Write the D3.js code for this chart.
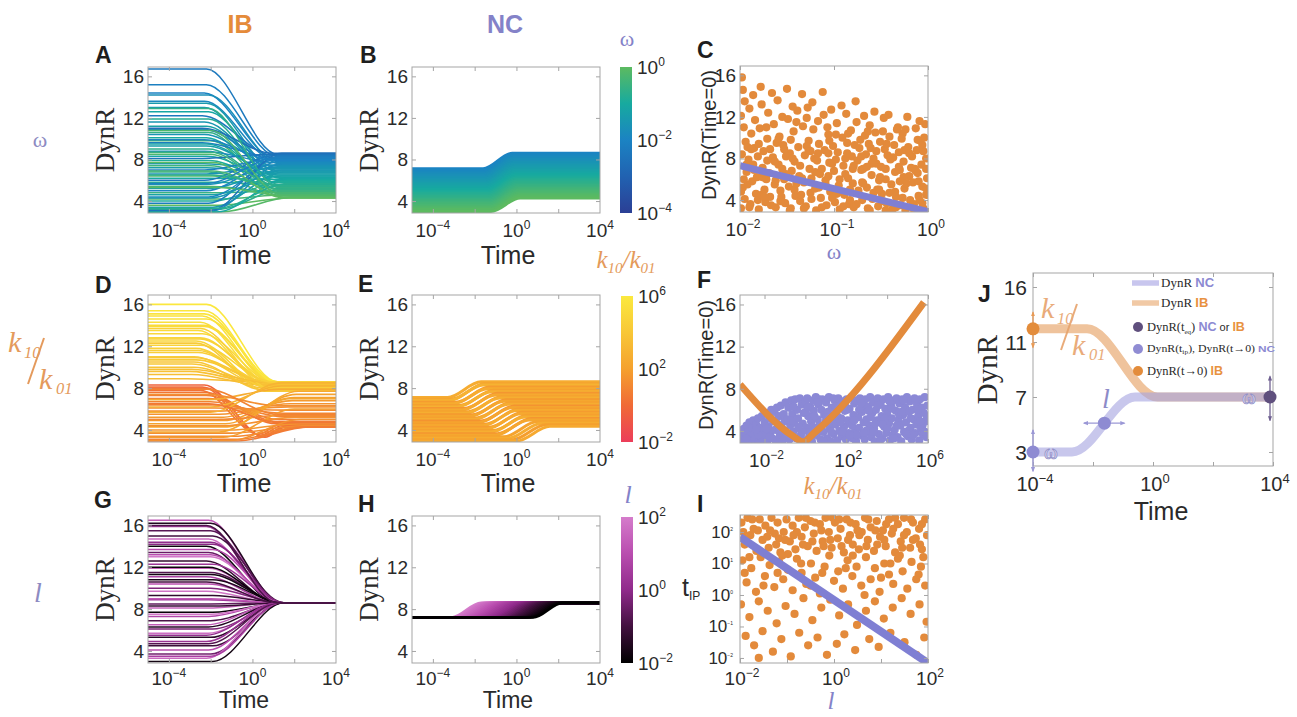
<!DOCTYPE html>
<html>
<head>
<meta charset="utf-8">
<script src="https://cdn.jsdelivr.net/npm/d3@7/dist/d3.min.js"></script>
<style>
html,body{margin:0;padding:0;background:#fff;}
svg{display:block;}
</style>
</head>
<body>
<svg id="fig" width="1297" height="717"></svg>
<script>
// ================= DATA =================
const timeDomainExp = [-5, 4];          // log10 Time shown in A,B,D,E,G,H
const dynrDomain = [2.85, 16.9];
const timeTickExp = [-4, 0, 4];
const timeMinorExp = [-4, -2, 0, 2];
const dynrTicks = [4, 8, 12, 16];
const omegaTickExp = [-2, -1, 0];       // panel C
const kTickExp = [-2, 2, 6];            // panel F
const kDomainExp = [-3.2, 6];
const lTickExp = [-2, 0, 2];            // panel I
const tipTickExp = [-2, -1, 0, 1, 2];
const tipDomainExp = [-2.16, 2.54];
const omegaBarTicks = [-4, -2, 0];
const kBarTicks = [-2, 2, 6];
const lBarTicks = [-2, 0, 2];
const jTimeTickExp = [-4, 0, 4];
const jDynrTicks = [3, 7, 11, 16];

// A: IB trajectories coloured by omega  [DynR start, DynR end, log10 mid-time, log10 omega]
const ibOmegaLines = [[16.7,8.5,-0.5,-2.3],[15.2,8.3,-0.5,-2.1],[14.4,8.1,-0.6,-2.0],[14.2,7.6,-0.4,-1.7],[13.6,7.9,-0.6,-1.9],[13.4,6.8,-0.5,-1.4],[13.0,7.2,-0.6,-1.5],[12.6,6.2,-0.4,-1.1],[12.2,8.4,-0.7,-2.3],[11.9,5.6,-0.4,-0.8],[11.6,7.0,-0.6,-1.5],[11.2,6.5,-0.5,-1.2],[10.9,8.0,-0.7,-2.1],[10.6,5.1,-0.4,-0.6],[10.4,7.4,-0.6,-1.6],[10.1,6.0,-0.5,-1.0],[9.8,4.7,-0.3,-0.3],[9.6,8.2,-0.7,-2.2],[9.3,6.7,-0.5,-1.3],[9.0,5.4,-0.4,-0.7],[8.8,7.7,-0.6,-1.8],[8.5,4.5,-0.3,-0.2],[8.3,6.3,-0.5,-1.1],[8.1,8.5,-0.7,-2.5],[7.9,5.8,-0.4,-0.9],[7.6,7.1,-0.6,-1.5],[7.4,4.9,-0.3,-0.4],[7.2,6.6,-0.5,-1.3],[7.0,8.1,-0.6,-2.1],[6.8,5.2,-0.4,-0.6],[6.6,7.5,-0.5,-1.7],[6.4,4.4,-0.2,-0.1],[6.2,6.1,-0.4,-1.0],[6.0,8.4,-0.6,-2.3],[5.8,5.6,-0.3,-0.8],[5.6,7.3,-0.5,-1.6],[5.4,4.8,-0.2,-0.3],[5.2,6.9,-0.4,-1.4],[5.0,8.0,-0.5,-2.0],[4.8,5.0,-0.1,-0.5],[4.6,6.4,-0.3,-1.2],[4.4,7.8,-0.4,-1.9],[4.2,4.6,0.0,-0.2],[4.0,5.9,-0.2,-0.9],[3.8,8.3,-0.4,-2.2],[3.6,4.3,0.1,0.0],[3.4,6.8,-0.2,-1.4],[3.2,5.3,0.0,-0.7],[3.0,7.6,-0.3,-1.8],[2.95,4.4,0.2,-0.1],[2.95,6.2,0.0,-1.1],[3.1,8.6,-0.3,-2.5],[5.3,4.5,0.0,-0.1],[6.9,4.7,-0.2,-0.3],[8.7,5.0,-0.3,-0.5],[9.9,7.9,-0.6,-2.0],[11.0,8.6,-0.7,-2.6],[12.9,5.3,-0.4,-0.6],[7.7,4.3,-0.2,0.0],[4.3,7.0,-0.3,-1.5],[5.7,8.2,-0.5,-2.1],[6.5,5.5,-0.3,-0.7],[3.3,5.7,0.0,-0.8],[9.5,6.4,-0.5,-1.2],[10.8,4.6,-0.3,-0.2]];

// B: NC trajectories coloured by omega [start, end, mid, log10 omega]
const ncOmegaLines = [[7.10,8.60,-0.90,-2.00],[6.96,8.45,-0.89,-1.93],[6.82,8.30,-0.88,-1.86],[6.68,8.15,-0.86,-1.79],[6.54,8.00,-0.85,-1.72],[6.40,7.86,-0.84,-1.66],[6.26,7.71,-0.82,-1.59],[6.12,7.56,-0.81,-1.52],[5.98,7.41,-0.80,-1.45],[5.84,7.27,-0.78,-1.38],[5.70,7.12,-0.77,-1.31],[5.56,6.97,-0.76,-1.24],[5.42,6.83,-0.74,-1.17],[5.28,6.68,-0.73,-1.10],[5.14,6.53,-0.72,-1.03],[5.00,6.39,-0.70,-0.97],[4.86,6.24,-0.69,-0.90],[4.72,6.09,-0.68,-0.83],[4.58,5.95,-0.66,-0.76],[4.44,5.80,-0.65,-0.69],[4.30,5.65,-0.64,-0.62],[4.16,5.51,-0.62,-0.55],[4.02,5.36,-0.61,-0.48],[3.88,5.21,-0.60,-0.41],[3.74,5.07,-0.58,-0.34],[3.60,4.92,-0.57,-0.28],[3.46,4.77,-0.56,-0.21],[3.32,4.63,-0.54,-0.14],[3.18,4.48,-0.53,-0.07],[3.00,4.30,-0.52,0.00]];

// C: IB DynR(Time=0) vs omega  [log10 omega, DynR]
const cIbPoints = [[-1.98,15.8],[-1.97,14.6],[-1.95,13.5],[-1.99,12.1],[-1.96,11.0],[-1.94,9.6],[-1.98,8.4],[-1.93,6.7],[-1.97,5.2],[-1.95,4.1],[-1.99,3.2],[-1.90,12.8],[-1.88,10.4],[-1.91,7.9],[-1.87,5.8],[-1.89,3.6],[-1.86,14.1],[-1.84,11.7],[-1.85,9.0],[-1.82,6.2],[-1.83,4.6],[-1.80,3.1],[-1.78,14.9],[-1.77,13.2],[-1.79,10.9],[-1.75,8.7],[-1.76,7.1],[-1.74,5.0],[-1.73,3.8],[-1.70,12.4],[-1.71,9.9],[-1.69,6.6],[-1.68,4.3],[-1.66,14.3],[-1.64,11.3],[-1.65,8.1],[-1.63,5.5],[-1.62,3.3],[-1.60,13.6],[-1.58,10.1],[-1.59,7.4],[-1.57,4.9],[-1.55,12.0],[-1.54,9.3],[-1.53,6.0],[-1.52,3.7],[-1.50,14.7],[-1.49,11.8],[-1.47,8.5],[-1.48,5.3],[-1.46,3.2],[-1.44,13.0],[-1.43,10.6],[-1.42,7.7],[-1.41,4.4],[-1.39,12.6],[-1.38,9.1],[-1.37,6.3],[-1.36,3.9],[-1.34,14.2],[-1.33,11.1],[-1.31,8.3],[-1.32,5.7],[-1.30,3.4],[-1.28,12.9],[-1.27,9.7],[-1.26,7.0],[-1.25,4.7],[-1.23,13.4],[-1.22,10.8],[-1.21,8.0],[-1.20,5.1],[-1.19,3.0],[-1.17,11.6],[-1.16,9.4],[-1.15,6.5],[-1.14,4.2],[-1.12,14.4],[-1.11,12.2],[-1.10,8.8],[-1.09,5.9],[-1.08,3.5],[-1.06,10.3],[-1.05,7.6],[-1.04,4.8],[-1.03,12.7],[-1.01,9.2],[-1.00,6.8],[-0.99,3.8],[-0.97,11.4],[-0.96,8.6],[-0.95,5.4],[-0.94,3.1],[-0.92,13.1],[-0.91,10.0],[-0.90,7.3],[-0.89,4.5],[-0.87,12.3],[-0.86,9.5],[-0.85,6.1],[-0.84,3.6],[-0.82,10.7],[-0.81,8.2],[-0.80,5.6],[-0.79,3.3],[-0.77,13.5],[-0.76,11.5],[-0.75,7.8],[-0.74,4.9],[-0.72,9.8],[-0.71,6.9],[-0.70,4.0],[-0.68,12.1],[-0.67,10.2],[-0.66,8.4],[-0.65,5.2],[-0.64,3.2],[-0.62,11.2],[-0.61,9.0],[-0.60,6.4],[-0.59,4.1],[-0.57,12.5],[-0.56,10.5],[-0.55,7.5],[-0.54,5.0],[-0.53,3.4],[-0.51,9.6],[-0.50,7.2],[-0.49,4.6],[-0.47,11.9],[-0.46,8.9],[-0.45,6.0],[-0.44,3.7],[-0.42,12.2],[-0.41,10.1],[-0.40,7.9],[-0.39,5.5],[-0.38,3.1],[-0.36,9.3],[-0.35,6.7],[-0.34,4.3],[-0.32,11.0],[-0.31,8.6],[-0.30,5.8],[-0.29,3.5],[-0.27,10.4],[-0.26,7.7],[-0.25,5.1],[-0.24,3.0],[-0.22,12.0],[-0.21,9.1],[-0.20,6.3],[-0.19,4.0],[-0.17,8.2],[-0.16,5.7],[-0.15,3.6],[-0.13,10.9],[-0.12,8.8],[-0.11,6.6],[-0.10,4.4],[-0.08,9.7],[-0.07,7.4],[-0.06,5.3],[-0.05,3.2],[-0.03,11.3],[-0.02,8.0],[-0.01,6.1],[-0.02,4.5],[-0.04,10.0],[-0.09,11.6],[-0.14,7.0],[-0.28,9.9],[-0.33,10.8],[-0.48,10.6],[-0.58,8.0],[-0.69,7.0],[-0.78,9.3],[-0.88,8.0],[-0.98,10.3],[-1.07,11.0],[-1.18,7.8],[-1.29,11.9],[-1.40,11.5],[-1.51,8.2],[-1.61,9.5],[-1.72,11.0],[-1.81,8.2],[-1.92,9.1],[-1.92,5.5],[-1.96,6.0],[-1.88,8.9],[-1.81,4.0],[-1.71,7.8],[-1.62,5.9],[-1.53,8.9],[-1.45,6.8],[-1.35,4.5],[-1.27,8.8],[-1.16,5.2],[-1.06,6.3],[-0.97,4.6],[-0.88,6.5],[-0.79,7.3],[-0.70,5.7],[-0.60,7.5],[-0.52,5.9],[-0.43,8.3],[-0.35,4.8],[-0.26,6.2],[-0.18,7.1],[-0.10,5.8],[-0.02,7.0],[-0.06,3.7],[-0.25,8.8],[-0.45,3.0],[-0.63,9.4],[-0.83,4.0],[-1.02,7.5],[-1.24,6.1],[-1.42,5.0],[-1.57,3.9],[-1.76,6.2],[-1.93,7.4],
 [-1.99,4.8],[-1.94,7.2],[-1.9,3.3],[-1.85,6.9],[-1.8,9.4],[-1.77,4.5],[-1.72,6.0],[-1.67,3.5],[-1.63,7.7],[-1.59,9.9],[-1.56,4.3],[-1.51,6.5],[-1.47,3.0],[-1.44,8.0],[-1.4,5.6],[-1.36,7.3],[-1.32,3.2],[-1.29,9.2],[-1.24,4.1],[-1.2,6.7],[-1.17,8.5],[-1.13,3.3],[-1.09,5.5],[-1.05,9.7],[-1.02,4.2],[-0.98,7.9],[-0.94,6.0],[-0.9,3.4],[-0.86,8.5],[-0.83,5.0],[-0.8,7.0],[-0.76,3.6],[-0.73,9.0],[-0.69,5.6],[-0.65,7.2],[-0.62,3.0],[-0.58,4.7],[-0.55,8.7],[-0.51,6.2],[-0.48,3.9],[-0.45,7.0],[-0.41,4.7],[-0.37,8.1],[-0.34,3.3],[-0.3,6.9],[-0.27,4.2],[-0.23,5.6],[-0.2,8.5],[-0.16,3.2],[-0.13,6.8],[-0.09,4.0],[-0.05,8.7],[-0.02,5.1],[-0.11,9.8],[-0.31,7.2],[-0.52,5.0],[-0.71,8.2],[-0.93,4.8],[-1.13,7.0],[-1.34,6.1],[-1.55,7.0],[-1.74,4.3],[-1.86,7.4],[-1.68,8.9],[-1.46,9.8],[-1.25,8.7],[-1.06,8.5],[-0.85,10.4],[-0.64,10.6],[-0.44,9.4],[-0.24,10.8],[-0.06,9.3]];
// C: NC DynR(Time=0) vs omega
const cNcOmega = [-2, 0];
const cNcDynR = [7.3, 2.9];

// D: IB trajectories coloured by k10/k01 [start, end, mid, log10 k, (dip value)]
const ibKLines = [[16.0,8.6,-0.5,5.9],[15.1,8.5,-0.6,5.7],[14.9,8.4,-0.7,5.6],[14.6,8.6,-0.5,5.5],[14.3,8.3,-0.8,5.4],[13.9,8.5,-0.6,5.3],[13.5,8.2,-0.9,5.1],[13.2,8.6,-0.7,5.0],[12.8,8.4,-0.8,4.9],[12.5,8.1,-1.0,4.8],[12.1,8.6,-0.8,4.7],[11.8,8.3,-1.0,4.5],[11.4,8.5,-0.9,4.4],[11.0,8.2,-1.1,4.3],[10.7,8.6,-1.0,4.1],[10.3,8.4,-1.2,4.0],[10.0,8.0,-1.1,3.8],[9.6,8.5,-1.3,3.7],[9.3,8.3,-1.2,3.5],[8.9,8.6,-1.4,3.4],[13.7,7.9,-0.8,4.6],[12.3,7.7,-1.0,4.2],[10.5,7.8,-1.1,3.9],[11.6,8.0,-0.9,4.4],[14.0,8.6,-0.6,5.2],[15.4,8.6,-0.6,5.8],[9.8,8.6,-1.2,3.6],[10.9,8.6,-1.0,4.0],[12.7,8.6,-0.8,4.6],
 [8.3,4.3,-0.9,-0.3,3.4],[8.1,4.4,-1.0,0.1,3.5],[8.0,4.3,-0.8,-0.1,3.3],[7.8,4.5,-1.1,0.3,3.6],[7.6,4.6,-0.6,0.4],[7.3,4.8,-0.5,0.6],[7.0,5.0,-0.4,0.7],[6.7,5.3,-0.3,0.9],[6.4,5.6,-0.2,1.0],[6.1,5.9,-0.1,1.2],[5.8,6.2,0.0,1.3],[5.5,6.5,0.1,1.5],[5.2,6.8,0.2,1.7],[4.9,7.1,0.3,1.9],[4.6,7.4,0.4,2.1],[4.3,7.7,0.5,2.4],[4.0,4.6,0.6,1.6],[3.7,4.4,0.7,1.3],[3.4,4.3,0.8,1.0],[3.1,4.3,0.9,0.8],[2.95,4.3,1.0,0.6],[6.9,7.9,-0.4,2.6],[6.2,8.2,-0.3,2.8],[5.7,8.5,-0.3,3.0],[7.4,6.3,-0.5,1.3],[5.0,5.4,0.0,1.1],[3.3,6.0,0.3,1.9],[3.8,7.0,0.1,2.3],[4.4,5.2,0.3,1.4],[6.5,4.7,-0.4,0.5],[7.9,5.5,-0.5,0.9],[3.0,5.0,0.6,1.4]];

// E: NC trajectories coloured by k10/k01 [start, end, mid, log10 k]
const ncKLines = [[7.1,8.6,-2.5,2.6],[6.95,8.45,-2.3,2.2],[6.8,8.3,-2.4,2.9],[6.65,8.1,-2.1,1.8],[6.5,7.95,-2.2,2.5],[6.35,7.8,-1.9,2.0],[6.2,7.65,-2.0,2.8],[6.05,7.5,-1.7,1.6],[5.9,7.35,-1.8,2.4],[5.75,7.2,-1.5,2.1],[5.6,7.05,-1.6,2.7],[5.45,6.9,-1.3,1.7],[5.3,6.75,-1.4,2.3],[5.15,6.6,-1.1,2.0],[5.0,6.45,-1.2,2.6],[4.85,6.3,-0.9,1.5],[4.7,6.15,-1.0,2.2],[4.55,6.0,-0.7,1.9],[4.4,5.85,-0.8,2.5],[4.25,5.7,-0.5,1.8],[4.1,5.55,-0.6,2.4],[3.95,5.4,-0.3,2.0],[3.8,5.25,-0.4,2.7],[3.65,5.1,-0.1,1.6],[3.5,4.95,-0.2,2.3],[3.35,4.8,0.2,2.1],[3.2,4.65,0.4,2.6],[3.05,4.5,0.6,1.9],[2.95,4.35,0.8,2.4]];

// F: NC DynR(Time=0) vs k10/k01 [log10 k, DynR]
const fNcPoints = [[-3.18,3.1],[-3.12,3.9],[-3.07,3.4],[-3.02,4.2],[-2.97,3.0],[-2.93,3.7],[-2.88,4.5],[-2.83,3.2],[-2.78,3.9],[-2.74,4.8],[-2.69,3.5],[-2.64,3.0],[-2.6,4.3],[-2.55,5.0],[-2.5,3.7],[-2.46,3.2],[-2.41,4.6],[-2.36,3.9],[-2.32,5.2],[-2.27,3.0],[-2.22,4.3],[-2.18,3.5],[-2.13,5.4],[-2.08,4.0],[-2.04,3.1],[-1.99,4.8],[-1.95,3.6],[-1.9,5.7],[-1.85,3.1],[-1.81,4.4],[-1.76,5.2],[-1.72,3.8],[-1.67,6.0],[-1.62,3.3],[-1.58,4.9],[-1.53,5.8],[-1.48,4.1],[-1.44,3.0],[-1.39,6.2],[-1.34,4.6],[-1.3,5.4],[-1.25,3.5],[-1.2,6.4],[-1.16,4.3],[-1.11,3.1],[-1.06,5.6],[-1.02,4.9],[-0.97,6.7],[-0.92,3.7],[-0.88,5.1],[-0.83,6.2],[-0.78,3.2],[-0.74,4.5],[-0.69,6.9],[-0.64,5.6],[-0.6,3.9],[-0.55,4.8],[-0.5,7.0],[-0.46,3.3],[-0.41,6.0],[-0.36,5.2],[-0.32,4.2],[-0.27,7.1],[-0.22,3.6],[-0.18,6.5],[-0.13,4.7],[-0.08,5.7],[-0.04,3.1],[0.0,6.8],[0.05,4.3],[0.09,7.1],[0.14,5.4],[0.18,3.4],[0.23,6.3],[0.28,4.9],[0.32,3.0],[0.37,6.9],[0.41,5.9],[0.46,4.0],[0.51,7.2],[0.55,3.6],[0.6,5.1],[0.64,6.5],[0.69,4.5],[0.74,3.2],[0.78,6.0],[0.83,7.0],[0.87,3.9],[0.92,5.5],[0.97,4.8],[1.01,6.7],[1.06,3.3],[1.1,5.8],[1.15,7.2],[1.2,4.2],[1.24,3.0],[1.29,6.2],[1.33,5.0],[1.38,3.7],[1.43,6.9],[1.47,4.6],[1.52,5.6],[1.56,3.1],[1.61,7.1],[1.66,4.0],[1.7,6.4],[1.75,5.2],[1.79,3.5],[1.84,6.8],[1.89,4.4],[1.93,5.9],[1.98,3.2],[2.02,7.0],[2.07,5.0],[2.12,3.8],[2.16,6.1],[2.21,4.7],[2.25,7.2],[2.3,3.3],[2.35,5.5],[2.39,6.6],[2.44,4.1],[2.48,3.0],[2.53,6.9],[2.58,5.3],[2.62,4.3],[2.67,7.1],[2.71,3.6],[2.76,5.8],[2.81,6.4],[2.85,4.8],[2.9,3.2],[2.94,7.0],[2.99,5.1],[3.04,3.9],[3.08,6.3],[3.13,4.5],[3.17,7.2],[3.22,3.4],[3.27,5.7],[3.31,6.7],[3.36,4.2],[3.4,3.0],[3.45,6.0],[3.5,5.0],[3.54,7.1],[3.59,3.7],[3.63,4.9],[3.68,6.5],[3.73,5.4],[3.77,3.3],[3.82,7.0],[3.86,4.4],[3.91,6.1],[3.96,3.8],[4.0,5.6],[4.05,7.2],[4.09,4.7],[4.14,3.1],[4.19,6.4],[4.23,5.2],[4.28,3.6],[4.32,6.9],[4.37,4.1],[4.42,5.9],[4.46,7.1],[4.51,3.4],[4.55,5.0],[4.6,6.6],[4.65,4.5],[4.69,3.0],[4.74,7.0],[4.78,5.5],[4.83,3.9],[4.88,6.2],[4.92,4.8],[4.97,7.2],[5.01,3.5],[5.06,5.8],[5.11,6.8],[5.15,4.3],[5.2,3.2],[5.24,6.0],[5.29,5.1],[5.34,7.1],[5.38,3.8],[5.43,4.6],[5.47,6.5],[5.52,5.4],[5.57,3.1],[5.61,7.0],[5.66,4.2],[5.7,6.2],[5.75,3.7],[5.8,5.7],[5.84,7.2],[5.89,4.9],[5.93,3.4],[5.97,6.4],[0.02,5.8],[0.21,3.9],[0.44,5.4],[0.66,7.0],[0.89,3.0],[1.13,4.6],[1.36,7.1],[1.59,5.3],[1.82,3.9],[2.05,6.0],[2.28,4.5],[2.51,3.6],[2.74,6.6],[2.97,4.0],[3.2,5.3],[3.43,4.7],[3.66,3.1],[3.89,5.2],[4.12,6.8],[4.35,3.3],[4.58,5.6],[4.81,6.9],[5.04,4.0],[5.27,3.6],[5.5,6.0],[5.73,4.5],[5.95,5.3],[-0.15,3.9],[-0.58,6.3],[-1.28,4.0],[-1.75,3.4],[-2.3,3.6],[-2.9,3.3],
 [0.12,6.2],[0.35,4.4],[0.58,6.7],[0.8,4.1],[1.03,5.3],[1.26,3.9],[1.48,6.3],[1.71,4.8],[1.94,6.6],[2.17,3.6],[2.4,5.0],[2.63,6.0],[2.86,3.8],[3.09,5.9],[3.32,3.9],[3.55,6.4],[3.78,4.6],[4.01,4.2],[4.24,6.1],[4.47,4.5],[4.7,5.8],[4.93,3.7],[5.16,5.2],[5.39,6.9],[5.62,4.9],[5.85,3.9],[-0.35,4.4],[-0.7,5.0],[-1.0,4.0],[-1.45,5.0],[-1.9,4.2],[-2.4,4.1]];
// F: IB DynR(Time=0) vs k10/k01
const fIbK = [-3.2, -0.6, -0.11, 0.4, 5.8];
const fIbDynR = [8.4, 3.5, 2.96, 3.75, 16.2];

// G: IB trajectories coloured by l [start, mid, log10 l]; all end at 8.6
const ibLEnd = 8.6;
const ibLLines = [[16.5,-0.4,1.2],[16.2,-0.3,-1.5],[15.9,-0.5,0.5],[15.0,-0.2,-1.0],[14.7,-0.4,1.6],[14.4,-0.3,0.0],[14.0,-0.5,-1.8],[13.7,-0.2,0.9],[13.4,-0.4,-0.5],[13.0,-0.3,1.9],[12.6,-0.5,-1.2],[12.3,-0.2,0.3],[11.9,-0.4,1.4],[11.5,-0.3,-0.8],[11.1,-0.5,0.7],[10.8,-0.2,-1.6],[10.4,-0.4,1.1],[10.0,-0.3,-0.2],[9.7,-0.5,1.8],[9.3,-0.2,-1.3],[8.9,-0.4,0.4],[8.5,-0.3,-0.6],[8.1,-0.5,1.5],[7.7,-0.2,-1.9],[7.3,-0.4,0.8],[6.9,-0.3,-0.9],[6.5,-0.5,1.3],[6.1,-0.2,-0.3],[5.7,-0.4,1.7],[5.3,-0.3,-1.4],[4.9,-0.5,0.2],[4.5,-0.2,-1.1],[4.1,-0.4,1.0],[3.7,-0.3,-0.4],[3.3,-0.5,1.6],[3.0,-0.2,-1.7],[15.5,-0.3,-0.7],[12.0,-0.4,-1.9],[9.0,-0.3,1.2],[6.3,-0.4,-1.5],[3.5,-0.3,0.6],[14.2,-0.2,-0.1],[10.6,-0.5,-1.0],[7.5,-0.3,1.9],[4.7,-0.4,-0.8],[13.2,-0.3,1.0],[8.3,-0.2,-1.2],[5.5,-0.5,0.1],[11.3,-0.3,-1.7],[16.0,-0.5,-0.9]];

// H: NC trajectories coloured by l [log10 l, mid]; start 7.2 -> end 8.6
const ncLStartEnd = [7.2, 8.6];
const ncLLines = [[2.0,-2.4],[1.87,-2.27],[1.73,-2.14],[1.6,-2.01],[1.47,-1.88],[1.33,-1.75],[1.2,-1.62],[1.07,-1.49],[0.93,-1.36],[0.8,-1.23],[0.67,-1.1],[0.53,-0.97],[0.4,-0.84],[0.27,-0.71],[0.13,-0.58],[0,-0.45],[-0.13,-0.32],[-0.27,-0.19],[-0.4,-0.06],[-0.53,0.07],[-0.67,0.2],[-0.8,0.33],[-0.93,0.46],[-1.07,0.59],[-1.2,0.72],[-1.33,0.85],[-1.47,0.98],[-1.6,1.11],[-1.73,1.24],[-1.87,1.37],[-2.0,1.5]];

// I: IB inflection time vs l  [log10 l, log10 t_IP]
const iIbPoints = [[-1.97,2.3],[-1.9,1.6],[-1.84,2.45],[-1.78,1.9],[-1.71,2.1],[-1.65,1.4],[-1.58,2.4],[-1.52,1.75],[-1.46,2.2],[-1.39,1.5],[-1.33,2.45],[-1.26,1.95],[-1.2,2.3],[-1.14,1.35],[-1.07,2.0],[-1.01,2.4],[-0.94,1.7],[-0.88,2.2],[-0.82,1.45],[-0.75,2.45],[-0.69,1.85],[-0.62,2.15],[-0.56,1.55],[-0.5,2.35],[-0.43,1.95],[-0.37,1.4],[-0.3,2.25],[-0.24,1.7],[-0.18,2.45],[-0.11,2.0],[-0.05,1.5],[0.02,2.3],[0.08,1.8],[0.14,2.1],[0.21,1.35],[0.27,2.4],[0.34,1.9],[0.4,1.6],[0.46,2.25],[0.53,1.45],[0.59,2.0],[0.66,2.45],[0.72,1.75],[0.78,2.15],[0.85,1.4],[0.91,2.35],[0.98,1.85],[1.04,2.05],[1.1,1.55],[1.17,2.4],[1.23,1.95],[1.3,1.35],[1.36,2.25],[1.42,1.7],[1.49,2.45],[1.55,2.0],[1.62,1.5],[1.68,2.3],[1.74,1.8],[1.81,2.1],[1.87,1.45],[1.94,2.4],[1.98,1.9],[-1.93,2.0],[-1.74,2.4],[-1.55,1.3],[-1.36,2.05],[-1.17,1.8],[-0.98,1.3],[-0.79,2.0],[-0.6,2.45],[-0.41,2.3],[-0.22,1.55],[-0.03,2.45],[0.16,1.55],[0.35,2.3],[0.54,1.9],[0.73,2.4],[0.92,1.6],[1.11,2.25],[1.3,2.45],[1.49,1.9],[1.68,1.75],[1.87,2.25],[-1.95,1.1],[-1.86,0.4],[-1.76,0.85],[-1.66,0.1],[-1.56,1.2],[-1.47,0.6],[-1.37,0.95],[-1.27,0.25],[-1.17,1.05],[-1.08,0.5],[-0.98,0.8],[-0.88,0.15],[-0.79,1.15],[-0.69,0.7],[-0.59,0.35],[-0.49,1.0],[-0.4,0.55],[-0.3,0.05],[-0.2,0.9],[-0.1,1.25],[0.0,0.45],[0.09,0.75],[0.19,0.2],[0.29,1.1],[0.39,0.6],[0.48,0.9],[0.58,0.3],[0.68,1.2],[0.78,0.5],[0.87,0.85],[0.97,0.1],[1.07,1.0],[1.17,0.65],[1.26,0.35],[1.36,1.15],[1.46,0.75],[1.56,0.2],[1.65,1.05],[1.75,0.5],[1.85,0.9],[1.94,0.3],[-1.9,0.7],[-1.5,0.3],[-1.1,1.25],[-0.7,1.0],[-0.25,0.7],[0.25,0.85],[0.65,0.0],[1.0,0.55],[1.4,1.25],[1.8,0.65],[-1.98,-0.3],[-1.8,-0.7],[-1.6,-0.2],[-1.41,-0.5],[-1.22,-0.9],[-1.03,-0.35],[-0.84,-0.6],[-0.65,-0.1],[-0.46,-0.8],[-0.27,-0.4],[-0.08,-0.15],[0.11,-0.65],[0.3,-0.3],[0.49,-0.95],[0.68,-0.5],[0.87,-0.2],[1.06,-0.75],[1.25,-0.4],[1.44,-0.1],[1.63,-0.6],[1.82,-0.3],[1.97,-0.85],[-1.88,-1.3],[-1.7,-1.6],[-1.52,-1.15],[-1.3,-1.8],[-1.12,-1.4],[-0.92,-1.95],[-0.74,-1.2],[-0.55,-1.6],[-0.35,-1.35],[-0.15,-1.9],[0.06,-1.55],[0.22,-1.25],[0.45,-1.75],[0.75,-1.4],[0.95,-1.65],[1.2,-1.2],[1.5,-1.5],[1.75,-1.9],[1.92,-1.35],[-1.6,-2.0],
 [-1.88,1.8],[-1.62,2.05],[-1.42,1.85],[-1.23,1.6],[-1.04,1.75],[-0.86,1.9],[-0.66,1.6],[-0.46,1.7],[-0.27,2.05],[-0.08,1.75],[0.11,2.4],[0.3,1.75],[0.5,2.05],[0.69,1.55],[0.88,2.05],[1.07,1.75],[1.26,2.1],[1.45,1.5],[1.64,2.4],[1.83,1.6],[-1.8,1.2],[-1.2,0.7],[-0.5,0.3],[0.4,1.25],[1.2,1.0],[1.9,1.2]];
// I: NC inflection time vs l
const iNcL = [-2, 2];
const iNcTip = [1.84, -2.16];

// J: schematic
const jNcTime = [-4, -2.7, -0.6, 4];
const jNcDynR = [3, 3, 7, 7];
const jIbTime = [-4, -2.2, 0.15, 4];
const jIbDynR = [12.2, 12.2, 7, 7];
const jDots = [{t:-4, v:12.2, c:'ib'}, {t:-4, v:3, c:'nc'}, {t:-1.62, v:5.1, c:'nc'}, {t:3.9, v:7, c:'eq'}];
const jLegend = ['DynR NC', 'DynR IB', 'DynR(t_eq) NC or IB', 'DynR(t_ip), DynR(t→0) NC', 'DynR(t→0) IB'];

// ================= DRAWING =================
const svg = d3.select('#fig');
const defs = svg.append('defs');
const SANS = '"Liberation Sans", Arial, sans-serif';
const SERIF = '"Liberation Serif", "Times New Roman", serif';
const ORANGE = '#e58b3a', LAV = '#8482c8', INK = '#2a2a2a', FRAME = '#a5a5a5';
const MINUS = '\u2212';

const colX = [[148,336],[412,600],[740,928]];
const rowY = [[67,213],[295,442],[516,663]];
const timeLabelY = [264, 492, 708];
const tickLabelOff = [24, 24, 22];

const omegaColor = d3.scaleLinear().domain([-4,-3,-2,-1,0]).range(['#2b3f95','#2162b1','#1b83c3','#17aa9f','#5cba60']);
const kColor = d3.scaleLinear().domain([-2,0,2,4,6]).range(['#ec3d5a','#f06a36','#f5a12e','#f8c737','#fbe93e']);
const lColor = d3.scaleLinear().domain([-2,-1,0,1,2]).range(['#000000','#42103f','#902a8b','#b94daf','#d57ccb']);

let uid = 0;
function clip(x0,y0,x1,y1){
  const id = 'c' + (uid++);
  defs.append('clipPath').attr('id',id).append('rect').attr('x',x0).attr('y',y0).attr('width',x1-x0).attr('height',y1-y0);
  return `url(#${id})`;
}
function expText(g, x, y, e, size, anchor, supSize, rise, color){
  const t = g.append('text').attr('x',x).attr('y',y).attr('font-family',SANS).attr('font-size',size)
    .attr('fill',color||INK).attr('text-anchor',anchor);
  t.append('tspan').text('10');
  t.append('tspan').attr('dy',-rise).attr('font-size',supSize).text(String(e).replace('-',MINUS));
  return t;
}
function frame(g, x, y, xt, yt){
  const [x0,x1] = x.range(); const [y1,y0] = y.range();
  g.append('rect').attr('x',x0).attr('y',y0).attr('width',x1-x0).attr('height',y1-y0)
    .attr('fill','none').attr('stroke',FRAME).attr('stroke-width',1);
  const st = s => { s.select('.domain').remove(); s.selectAll('line').attr('stroke',FRAME); s.selectAll('text').remove(); };
  g.append('g').attr('transform',`translate(0,${y1})`).call(d3.axisBottom(x).tickValues(xt).tickSize(-4)).call(st);
  g.append('g').attr('transform',`translate(0,${y0})`).call(d3.axisTop(x).tickValues(xt).tickSize(-4)).call(st);
  g.append('g').attr('transform',`translate(${x0},0)`).call(d3.axisLeft(y).tickValues(yt).tickSize(-4)).call(st);
  g.append('g').attr('transform',`translate(${x1},0)`).call(d3.axisRight(y).tickValues(yt).tickSize(-4)).call(st);
}
function panelLetter(txt, x, y){
  svg.append('text').attr('x',x).attr('y',y).attr('font-family',SANS).attr('font-weight','bold')
    .attr('font-size',23).attr('fill','#1e1e1e').text(txt);
}
function sKnots(s, e, m, hw){ return [[timeDomainExp[0],s],[m-hw,s],[m+hw,e],[timeDomainExp[1],e]]; }
function dipKnots(s, e, m, hw, dip){ return [[timeDomainExp[0],s],[m-hw,s],[m+hw,dip],[m+hw+1.0,e],[timeDomainExp[1],e]]; }

function timePanel(ci, ri, lines, knotFn, colorFn, sw){
  const [x0,x1] = colX[ci], [y0,y1] = rowY[ri];
  const x = d3.scaleLog().domain(timeDomainExp.map(e=>10**e)).range([x0,x1]);
  const y = d3.scaleLinear().domain(dynrDomain).range([y1,y0]);
  const g = svg.append('g');
  const line = d3.line().x(d=>x(10**d[0])).y(d=>y(d[1])).curve(d3.curveMonotoneX);
  g.append('g').attr('clip-path',clip(x0,y0,x1,y1)).selectAll('path').data(lines).join('path')
    .attr('d',d=>line(knotFn(d))).attr('fill','none').attr('stroke',colorFn).attr('stroke-width',sw);
  frame(g, x, y, timeMinorExp.map(e=>10**e), dynrTicks);
  timeTickExp.forEach(e=>expText(g, x(10**e), y1+tickLabelOff[ri], e, 19, 'middle', 12, 8));
  dynrTicks.forEach(v=>g.append('text').attr('x',x0-4).attr('y',y(v)).attr('dy','0.36em').attr('text-anchor','end')
    .attr('font-family',SANS).attr('font-size',19).attr('fill',INK).text(v));
  g.append('text').attr('transform',`translate(${x0-34},${(y0+y1)/2}) rotate(-90)`).attr('text-anchor','middle')
    .attr('font-family',SERIF).attr('font-size',27).attr('fill',INK).text('DynR');
  g.append('text').attr('x',(x0+x1)/2+2).attr('y',timeLabelY[ri]).attr('text-anchor','middle')
    .attr('font-family',SANS).attr('font-size',ri===2?23:25).attr('fill',INK).text('Time');
  return g;
}

// ---- Column headers
svg.append('text').attr('x',240).attr('y',33).attr('text-anchor','middle').attr('font-family',SANS).attr('font-weight','bold')
  .attr('font-size',25).attr('fill',ORANGE).text('IB');
svg.append('text').attr('x',505).attr('y',33).attr('text-anchor','middle').attr('font-family',SANS).attr('font-weight','bold')
  .attr('font-size',25).attr('fill',LAV).text('NC');

// ---- A, B
timePanel(0,0, ibOmegaLines, d=>sKnots(d[0],d[1],d[2],1.7), d=>omegaColor(d[3]), 1.5);
timePanel(1,0, ncOmegaLines, d=>sKnots(d[0],d[1],d[2],0.7), d=>omegaColor(d[3]), 3);
// ---- D, E
timePanel(0,1, ibKLines, d=> d.length>4 ? dipKnots(d[0],d[1],d[2],1.4,d[4]) : sKnots(d[0],d[1],d[2],1.7), d=>kColor(d[3]), 1.6);
timePanel(1,1, ncKLines, d=>sKnots(d[0],d[1],d[2],0.8), d=>kColor(d[3]), 3);
// ---- G, H
timePanel(0,2, ibLLines, d=>sKnots(d[0],ibLEnd,d[1],1.7), d=>lColor(d[2]), 1.5);
timePanel(1,2, ncLLines, d=>sKnots(ncLStartEnd[0],ncLStartEnd[1],d[1],0.7), d=>lColor(d[0]), 2.6);

panelLetter('A',95,63); panelLetter('B',360,63); panelLetter('C',697,58);
panelLetter('D',95,293); panelLetter('E',358,292); panelLetter('F',697,288);
panelLetter('G',94,508); panelLetter('H',358,512); panelLetter('I',697,512);
panelLetter('J',978,302);

// ---- Colorbars
function colorbar(x0, y0, y1, scale, ticks){
  const id = 'g' + (uid++);
  const dom = d3.extent(scale.domain());
  const grad = defs.append('linearGradient').attr('id',id).attr('x1',0).attr('y1',1).attr('x2',0).attr('y2',0);
  scale.domain().forEach(v=>grad.append('stop').attr('offset',(v-dom[0])/(dom[1]-dom[0])).attr('stop-color',scale(v)));
  svg.append('rect').attr('x',x0).attr('y',y0).attr('width',12).attr('height',y1-y0).attr('fill',`url(#${id})`);
  const cy = d3.scaleLinear().domain(dom).range([y1,y0]);
  ticks.forEach(e=>expText(svg, x0+17, cy(e)+7, e, 19, 'start', 12, 8));
}
colorbar(620, 67, 213, omegaColor, omegaBarTicks);
colorbar(621, 296, 442, kColor, kBarTicks);
colorbar(621, 517, 663, lColor, lBarTicks);

// ---- k10/k01 helpers
function kInline(x, y, size, color, anchor){
  const t = svg.append('text').attr('x',x).attr('y',y).attr('text-anchor',anchor||'middle').attr('font-family',SERIF)
    .attr('font-style','italic').attr('font-size',size).attr('fill',color);
  t.append('tspan').text('k');
  t.append('tspan').attr('dy',size*0.2).attr('font-size',size*0.6).text('10');
  t.append('tspan').attr('dy',-size*0.2).text('/');
  t.append('tspan').text('k');
  t.append('tspan').attr('dy',size*0.2).attr('font-size',size*0.6).text('01');
}
function kStacked(g, x, y, size, color, op){
  const s = size/30;
  const h = g.append('g').attr('fill',color).attr('opacity',op).attr('font-family',SERIF).attr('font-style','italic');
  h.append('text').attr('x',x).attr('y',y).attr('font-size',size).text('k');
  h.append('text').attr('x',x+16*s).attr('y',y+6*s).attr('font-size',size*0.55).text('10');
  h.append('line').attr('x1',x+20*s).attr('y1',y+32*s).attr('x2',x+36*s).attr('y2',y-14*s).attr('stroke',color).attr('stroke-width',2*s);
  h.append('text').attr('x',x+31*s).attr('y',y+37*s).attr('font-size',size).text('k');
  h.append('text').attr('x',x+48*s).attr('y',y+42*s).attr('font-size',size*0.55).text('01');
}

// colorbar titles
svg.append('text').attr('x',627).attr('y',46).attr('text-anchor','middle').attr('font-family',SERIF).attr('font-size',22)
  .attr('fill',LAV).text('ω');
kInline(626, 268, 25, '#e49a5a');
svg.append('text').attr('x',628).attr('y',503).attr('text-anchor','middle').attr('font-family',SERIF).attr('font-style','italic')
  .attr('font-size',26).attr('fill',LAV).text('l');

// row labels
svg.append('text').attr('x',40).attr('y',147).attr('text-anchor','middle').attr('font-family',SERIF).attr('font-size',22)
  .attr('fill','#8d8bc2').text('ω');
kStacked(svg, 8, 352, 30, '#e49a5c', 1);
svg.append('text').attr('x',38).attr('y',602).attr('text-anchor','middle').attr('font-family',SERIF).attr('font-style','italic')
  .attr('font-size',28).attr('fill','#8d8bc2').text('l');

// ---- C
{
  const [x0,x1] = colX[2], y0 = 66, y1 = 212;
  const x = d3.scaleLog().domain([1e-2,1]).range([x0,x1]);
  const y = d3.scaleLinear().domain(dynrDomain).range([y1,y0]);
  const g = svg.append('g');
  const inner = g.append('g').attr('clip-path',clip(x0,y0,x1,y1));
  inner.selectAll('circle').data(cIbPoints).join('circle').attr('cx',d=>x(10**d[0])).attr('cy',d=>y(d[1])).attr('r',4.1).attr('fill','#e38a3b');
  inner.append('path').datum(cNcOmega.map((o,i)=>[o,cNcDynR[i]])).attr('d',d3.line().x(d=>x(10**d[0])).y(d=>y(d[1])))
    .attr('fill','none').attr('stroke','#7f7fd3').attr('stroke-width',7);
  frame(g, x, y, omegaTickExp.map(e=>10**e), dynrTicks);
  omegaTickExp.forEach(e=>expText(g, x(10**e)+3, y1+24, e, 19, 'middle', 12, 8));
  dynrTicks.forEach(v=>g.append('text').attr('x',x0-4).attr('y',y(v)).attr('dy','0.36em').attr('text-anchor','end')
    .attr('font-family',SANS).attr('font-size',19).attr('fill',INK).text(v));
  g.append('text').attr('transform',`translate(716,${(y0+y1)/2-4}) rotate(-90)`).attr('text-anchor','middle')
    .attr('font-family',SANS).attr('font-size',20).attr('fill',INK).text('DynR(Time=0)');
  g.append('text').attr('x',(x0+x1)/2).attr('y',259).attr('text-anchor','middle').attr('font-family',SERIF)
    .attr('font-size',22).attr('fill',LAV).text('ω');
}

// ---- F
{
  const [x0,x1] = colX[2], y0 = 295, y1 = 443;
  const x = d3.scaleLog().domain(kDomainExp.map(e=>10**e)).range([x0,x1]);
  const y = d3.scaleLinear().domain(dynrDomain).range([y1,y0]);
  const g = svg.append('g');
  const inner = g.append('g').attr('clip-path',clip(x0,y0,x1,y1));
  inner.selectAll('circle').data(fNcPoints).join('circle').attr('cx',d=>x(10**d[0])).attr('cy',d=>y(d[1])).attr('r',4.1).attr('fill','#8b89d6');
  inner.append('path').datum(fIbK.map((k,i)=>[k,fIbDynR[i]]))
    .attr('d',d3.line().x(d=>x(10**d[0])).y(d=>y(d[1])).curve(d3.curveMonotoneX))
    .attr('fill','none').attr('stroke','#e38b3c').attr('stroke-width',7);
  frame(g, x, y, [-2,0,2,4,6].map(e=>10**e), dynrTicks);
  kTickExp.forEach(e=>expText(g, x(10**e)+2, y1+24, e, 19, 'middle', 12, 8));
  dynrTicks.forEach(v=>g.append('text').attr('x',x0-4).attr('y',y(v)).attr('dy','0.36em').attr('text-anchor','end')
    .attr('font-family',SANS).attr('font-size',19).attr('fill',INK).text(v));
  g.append('text').attr('transform',`translate(713,${(y0+y1)/2-4}) rotate(-90)`).attr('text-anchor','middle')
    .attr('font-family',SANS).attr('font-size',20).attr('fill',INK).text('DynR(Time=0)');
  kInline(833, 494, 25, '#e49a5a');
}

// ---- I
{
  const [x0,x1] = colX[2], y0 = 515, y1 = 663;
  const x = d3.scaleLog().domain([1e-2,1e2]).range([x0,x1]);
  const y = d3.scaleLog().domain(tipDomainExp.map(e=>10**e)).range([y1,y0]);
  const g = svg.append('g');
  const inner = g.append('g').attr('clip-path',clip(x0,y0,x1,y1));
  inner.selectAll('circle').data(iIbPoints).join('circle').attr('cx',d=>x(10**d[0])).attr('cy',d=>y(10**d[1])).attr('r',4.1).attr('fill','#e38a3b');
  inner.append('path').datum(iNcL.map((l,i)=>[l,iNcTip[i]])).attr('d',d3.line().x(d=>x(10**d[0])).y(d=>y(10**d[1])))
    .attr('fill','none').attr('stroke','#7f7fd3').attr('stroke-width',8);
  frame(g, x, y, [-2,-1,0,1,2].map(e=>10**e), tipTickExp.map(e=>10**e));
  lTickExp.forEach(e=>expText(g, x(10**e)+2, y1+22, e, 19, 'middle', 12, 8));
  tipTickExp.forEach(e=>expText(g, x0-7, y(10**e)+6, e, 17, 'end', 5, 7));
  const t = g.append('text').attr('x',682).attr('y',596).attr('font-family',SANS).attr('font-size',25).attr('fill',INK);
  t.append('tspan').text('t');
  t.append('tspan').attr('dy',4).attr('font-size',12).text('IP');
  g.append('text').attr('x',(x0+x1)/2-3).attr('y',709).attr('text-anchor','middle').attr('font-family',SERIF)
    .attr('font-style','italic').attr('font-size',25).attr('fill',LAV).text('l');
}

// ---- J
{
  const x0 = 1033, x1 = 1273, y0 = 273, y1 = 466;
  const x = d3.scaleLog().domain([1e-4,1e4]).range([x0,x1]);
  const y = d3.scaleLinear().domain([3,7,11,16]).range([452,397,342,287]);
  const g = svg.append('g');
  const line = d3.line().x(d=>x(10**d[0])).y(d=>y(d[1])).curve(d3.curveMonotoneX);
  g.append('path').datum(jIbTime.map((t,i)=>[t,jIbDynR[i]])).attr('d',line).attr('fill','none')
    .attr('stroke','#efc39c').attr('stroke-width',9);
  g.append('path').datum(jNcTime.map((t,i)=>[t,jNcDynR[i]])).attr('d',line).attr('fill','none')
    .attr('stroke','#a7a4e0').attr('stroke-opacity',0.62).attr('stroke-width',9);
  g.append('rect').attr('x',x0).attr('y',y0).attr('width',x1-x0).attr('height',y1-y0).attr('fill','none').attr('stroke',FRAME);
  const st = s => { s.select('.domain').remove(); s.selectAll('line').attr('stroke',FRAME); s.selectAll('text').remove(); };
  const xt = [-4,-2,0,2,4].map(e=>10**e);
  g.append('g').attr('transform',`translate(0,${y1})`).call(d3.axisBottom(x).tickValues(xt).tickSize(-4)).call(st);
  g.append('g').attr('transform',`translate(0,${y0})`).call(d3.axisTop(x).tickValues(xt).tickSize(-4)).call(st);
  g.append('g').attr('transform',`translate(${x0},0)`).call(d3.axisLeft(y).tickValues(jDynrTicks).tickSize(-4)).call(st);
  g.append('g').attr('transform',`translate(${x1},0)`).call(d3.axisRight(y).tickValues(jDynrTicks).tickSize(-4)).call(st);
  jTimeTickExp.forEach(e=>expText(g, x(10**e)+2, y1+25, e, 20, 'middle', 13, 8));
  jDynrTicks.forEach(v=>g.append('text').attr('x',x0-6).attr('y',y(v)).attr('dy','0.36em').attr('text-anchor','end')
    .attr('font-family',SANS).attr('font-size',21).attr('fill',INK).text(v));
  g.append('text').attr('transform',`translate(997,${(y0+y1)/2}) rotate(-90)`).attr('text-anchor','middle')
    .attr('font-family',SERIF).attr('font-size',29).attr('fill',INK).text('DynR');
  g.append('text').attr('x',(x0+x1)/2+8).attr('y',520).attr('text-anchor','middle').attr('font-family',SANS)
    .attr('font-size',25).attr('fill',INK).text('Time');

  const mk = (id,color)=>{ defs.append('marker').attr('id',id).attr('viewBox','0 0 10 10').attr('refX',8).attr('refY',5)
      .attr('markerWidth',4).attr('markerHeight',4).attr('orient','auto-start-reverse')
      .append('path').attr('d','M0,1L10,5L0,9Z').attr('fill',color); };
  mk('aO','#e89a55'); mk('aL','#9b98d6'); mk('aD','#6e5f90');
  const arrow = (xa,ya,xb,yb,id,color)=>g.append('line').attr('x1',xa).attr('y1',ya).attr('x2',xb).attr('y2',yb)
    .attr('stroke',color).attr('stroke-width',1.3).attr('marker-start',`url(#${id})`).attr('marker-end',`url(#${id})`);
  arrow(x(1e-4), y(13.7), x(1e-4), y(10.6), 'aO', '#e89a55');
  arrow(x(1e-4), y(4.6), x(1e-4), y(1.6), 'aL', '#9b98d6');
  arrow(x(10**3.9), y(8.5), x(10**3.9), y(5.3), 'aD', '#6e5f90');
  arrow(x(10**-2.3), y(5.1), x(10**-0.95), y(5.1), 'aL', '#9b98d6');

  const dotColor = {ib:'#e38c3b', nc:'#8e8bd2', eq:'#5f4f7d'};
  g.selectAll('circle.jd').data(jDots).join('circle').attr('class','jd').attr('cx',d=>x(10**d.t)).attr('cy',d=>y(d.v))
    .attr('r',6.5).attr('fill',d=>dotColor[d.c]);

  g.append('text').attr('x',1051).attr('y',459).attr('text-anchor','middle').attr('font-family',SERIF).attr('font-size',21)
    .attr('fill','#d9d7f0').attr('stroke','#8c8ac4').attr('stroke-width',0.7).text('ω');
  g.append('text').attr('x',1249).attr('y',404).attr('text-anchor','middle').attr('font-family',SERIF).attr('font-size',21)
    .attr('fill','#d9d7f0').attr('stroke','#8c8ac4').attr('stroke-width',0.7).text('ω');
  g.append('text').attr('x',1106).attr('y',408).attr('text-anchor','middle').attr('font-family',SERIF).attr('font-style','italic')
    .attr('font-size',28).attr('fill','#8d8bc8').text('l');
  kStacked(g, 1041, 318, 30, '#e7a36c', 0.9);

  const lx = 1132;
  const legRows = [{y:283,col:'#c8c6ee',name:'NC',nc:'#8c89d2'},{y:303,col:'#f1c9a5',name:'IB',nc:'#e8923f'}];
  legRows.forEach((r,i)=>{
    g.append('line').attr('x1',lx).attr('x2',lx+27).attr('y1',r.y).attr('y2',r.y).attr('stroke',r.col).attr('stroke-width',5.5);
    const t = g.append('text').attr('x',lx+29).attr('y',r.y+4).attr('font-family',SERIF).attr('font-size',13).attr('fill',INK);
    t.append('tspan').text(jLegend[i].split(' ')[0] + ' ');
    t.append('tspan').attr('font-family',SANS).attr('font-weight','bold').attr('fill',r.nc).text(r.name);
  });
  const dotRows = [{y:327,c:'#5f4f7d'},{y:349,c:'#908cd3'},{y:371,c:'#e38c3b'}];
  dotRows.forEach(r=>g.append('circle').attr('cx',1138).attr('cy',r.y).attr('r',5).attr('fill',r.c));
  let t = g.append('text').attr('x',1147).attr('y',331).attr('font-family',SERIF).attr('font-size',12.5).attr('fill',INK);
  t.append('tspan').text('DynR(t');
  t.append('tspan').attr('dy',3).attr('font-size',7).text('eq');
  t.append('tspan').attr('dy',-3).text(') ');
  t.append('tspan').attr('font-family',SANS).attr('font-weight','bold').attr('fill','#8c89d2').text('NC');
  t.append('tspan').attr('font-family',SANS).attr('font-size',11).text(' or ');
  t.append('tspan').attr('font-family',SANS).attr('font-weight','bold').attr('fill','#e8923f').text('IB');
  t = g.append('text').attr('x',1147).attr('y',352).attr('font-family',SERIF).attr('font-size',9.5).attr('fill',INK)
    .attr('textLength',128).attr('lengthAdjust','spacingAndGlyphs');
  t.append('tspan').text('DynR(t');
  t.append('tspan').attr('dy',2).attr('font-size',6).text('ip');
  t.append('tspan').attr('dy',-2).text('), DynR(t→0) ');
  t.append('tspan').attr('font-family',SANS).attr('font-weight','bold').attr('fill','#8c89d2').text('NC');
  t = g.append('text').attr('x',1147).attr('y',375).attr('font-family',SERIF).attr('font-size',12.5).attr('fill',INK);
  t.append('tspan').text('DynR(t→0) ');
  t.append('tspan').attr('font-family',SANS).attr('font-weight','bold').attr('fill','#e8923f').text('IB');
}
</script>
</body>
</html>
